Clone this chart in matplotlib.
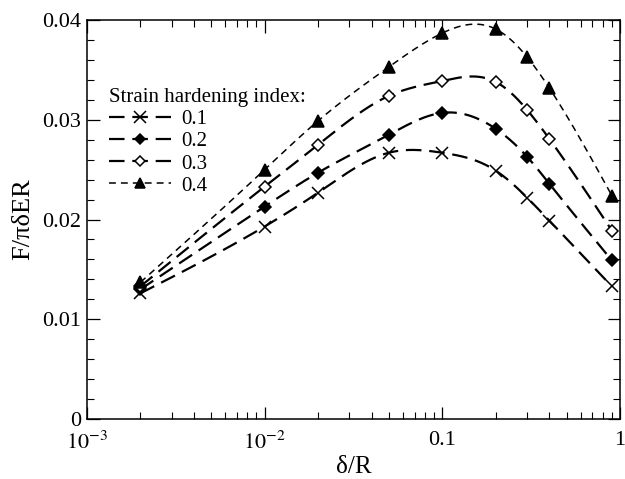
import numpy as np
import matplotlib
matplotlib.use("Agg")
import matplotlib.pyplot as plt
from matplotlib.ticker import FixedLocator, FixedFormatter, MultipleLocator, LogLocator, NullFormatter

plt.rcParams['font.family'] = ['Liberation Serif', 'DejaVu Serif']
plt.rcParams['mathtext.fontset'] = 'stix'

# dati
delta_r = [0.002, 0.01, 0.02, 0.05, 0.1, 0.2, 0.3, 0.4, 0.9]
n_labels = ['0.1', '0.2', '0.3', '0.4']
f_01 = [0.0126, 0.0193, 0.0227, 0.0267, 0.0267, 0.0249, 0.0222, 0.0199, 0.0133]
f_02 = [0.0130, 0.0213, 0.0247, 0.0285, 0.0307, 0.0291, 0.0263, 0.0236, 0.0159]
f_03 = [0.0133, 0.0233, 0.0275, 0.0324, 0.0339, 0.0338, 0.0310, 0.0281, 0.0189]
f_04 = [0.0137, 0.0250, 0.0299, 0.0353, 0.0387, 0.0391, 0.0363, 0.0332, 0.0224]
x_ticks = [0.001, 0.01, 0.1, 1]
x_tick_labels = ['$10^{-3}$', '$10^{-2}$', '0.1', '1']


def natural_spline(x, y, n=400):
    # spline cubica naturale, solo per disegnare la curva liscia
    x = np.asarray(x, float)
    y = np.asarray(y, float)
    k = len(x)
    h = np.diff(x)
    A = np.zeros((k, k))
    b = np.zeros(k)
    A[0, 0] = A[-1, -1] = 1
    for i in range(1, k - 1):
        A[i, i - 1] = h[i - 1]
        A[i, i] = 2 * (h[i - 1] + h[i])
        A[i, i + 1] = h[i]
        b[i] = 6 * ((y[i + 1] - y[i]) / h[i] - (y[i] - y[i - 1]) / h[i - 1])
    m = np.linalg.solve(A, b)
    xs = np.linspace(x[0], x[-1], n)
    idx = np.clip(np.searchsorted(x, xs) - 1, 0, k - 2)
    x0, x1 = x[idx], x[idx + 1]
    hh = x1 - x0
    t0, t1 = x1 - xs, xs - x0
    ys = (m[idx] * t0**3 / (6 * hh) + m[idx + 1] * t1**3 / (6 * hh)
          + (y[idx] / hh - m[idx] * hh / 6) * t0
          + (y[idx + 1] / hh - m[idx + 1] * hh / 6) * t1)
    return xs, ys


fig = plt.figure(figsize=(6.25, 4.79), dpi=100)
ax = fig.add_axes([0.139, 0.1253, 0.853, 0.8327])

series = [f_01, f_02, f_03, f_04]
markers = ['x', 'D', 'D', '^']
faces = ['black', 'black', 'white', 'black']
msizes = [9, 6, 6, 8]
dashes = [(7, 3.5), (7, 3.5), (7, 3.5), (4.5, 3.3)]
widths = [1.6, 1.6, 1.6, 1.1]

logx = np.log10(delta_r)
for vals, mk, fc, ms, ds, lw, lab in zip(series, markers, faces, msizes, dashes, widths, n_labels):
    xs, ys = natural_spline(logx, vals)
    ax.plot(10**xs, ys, color='black', lw=lw, dashes=ds)
    ax.plot(delta_r, vals, linestyle='none', marker=mk, ms=ms, mfc=fc,
            mec='black', mew=1.1)
    # voce della legenda
    ax.plot([], [], color='black', lw=lw, dashes=ds, marker=mk, ms=ms * 0.9,
            mfc=fc, mec='black', mew=1.1, label=lab)

ax.set_xscale('log')
ax.set_xlim(0.001, 1)
ax.set_ylim(0, 0.04)
ax.xaxis.set_major_locator(FixedLocator(x_ticks))
ax.xaxis.set_major_formatter(FixedFormatter(x_tick_labels))
ax.xaxis.set_minor_locator(LogLocator(base=10, subs=np.arange(2, 10)))
ax.xaxis.set_minor_formatter(NullFormatter())
ax.yaxis.set_major_locator(MultipleLocator(0.01))
ax.yaxis.set_minor_locator(MultipleLocator(0.002))
ax.yaxis.set_major_formatter(plt.FuncFormatter(lambda v, p: '0' if v == 0 else f'{v:.2f}'))

ax.tick_params(which='both', direction='in', top=True, right=True, labelsize=16)
ax.tick_params(axis='y', pad=4)
ax.tick_params(axis='x', pad=9)
ax.tick_params(which='major', length=9, width=0.9)
ax.tick_params(which='minor', length=5, width=0.8)
for sp in ax.spines.values():
    sp.set_linewidth(1.1)

ax.set_xlabel('δ/R', fontsize=18, labelpad=2)
ax.set_ylabel('F/πδER', fontsize=19, labelpad=6)

leg = ax.legend(title='Strain hardening index:', loc='upper left',
                bbox_to_anchor=(0.025, 0.85), frameon=False, fontsize=15,
                title_fontsize=15, handlelength=3.0, handletextpad=0.5,
                labelspacing=0.12, borderaxespad=0)
leg._legend_box.align = 'left'

fig.savefig('out.png', dpi=100)
